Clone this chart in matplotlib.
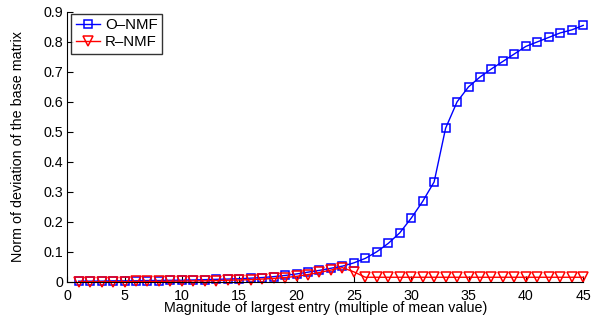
import numpy as np
import matplotlib
matplotlib.use("Agg")
import matplotlib.pyplot as plt

# magnitude of largest entry (multiple of mean value)
x = np.arange(1, 46)

o_nmf = [0.002, 0.002, 0.002, 0.003, 0.003, 0.003, 0.004, 0.004, 0.005, 0.005,
         0.006, 0.007, 0.008, 0.009, 0.010, 0.012, 0.014, 0.017, 0.021, 0.026,
         0.032, 0.038, 0.045, 0.052, 0.063, 0.078, 0.100, 0.128, 0.163, 0.212,
         0.268, 0.333, 0.512, 0.600, 0.650, 0.683, 0.710, 0.735, 0.760, 0.785,
         0.800, 0.815, 0.830, 0.840, 0.855]

r_nmf = [0.000, 0.000, 0.000, 0.000, 0.000, 0.001, 0.001, 0.001, 0.002, 0.002,
         0.003, 0.003, 0.004, 0.005, 0.006, 0.007, 0.009, 0.011, 0.014, 0.018,
         0.024, 0.031, 0.039, 0.047, 0.033, 0.015, 0.015, 0.015, 0.015, 0.015,
         0.015, 0.015, 0.015, 0.015, 0.015, 0.015, 0.015, 0.015, 0.015, 0.015,
         0.015, 0.015, 0.015, 0.015, 0.015]

xticks = np.arange(0, 46, 5)
yticks = np.arange(0, 0.91, 0.1)
ytick_labels = ["0", "0.1", "0.2", "0.3", "0.4", "0.5", "0.6", "0.7", "0.8", "0.9"]

plt.rcParams["font.family"] = ["Liberation Sans", "DejaVu Sans"]
plt.rcParams["font.size"] = 10.3

fig = plt.figure(figsize=(6.0, 3.22), dpi=100)
ax = fig.add_axes([0.112, 0.125, 0.86, 0.838])

ax.plot(x, o_nmf, color="#0000ff", lw=1.0, marker="s", ms=5.5,
        mfc="none", mec="#0000ff", mew=1.1, label="O\u2013NMF", clip_on=False)
ax.plot(x, r_nmf, color="#ff0000", lw=1.0, marker="v", ms=7.5,
        mfc="none", mec="#ff0000", mew=1.1, label="R\u2013NMF", clip_on=False)

ax.set_xlim(0, 45)
ax.set_ylim(0, 0.9)
ax.set_xticks(xticks)
ax.set_yticks(yticks)
ax.set_yticklabels(ytick_labels)
ax.tick_params(direction="in", length=4, width=0.8)
ax.tick_params(axis="x", pad=5)
ax.tick_params(axis="y", pad=3)

ax.spines["top"].set_visible(False)
ax.spines["right"].set_visible(False)

ax.set_xlabel("Magnitude of largest entry (multiple of mean value)", labelpad=-1)
ax.set_ylabel("Norm of deviation of the base matrix", labelpad=13)

leg = ax.legend(loc="upper left", bbox_to_anchor=(0.008, 0.993), borderaxespad=0,
                frameon=True, fancybox=False, edgecolor="black", fontsize=10.8,
                borderpad=0.3, handlelength=1.6, handletextpad=0.35,
                labelspacing=0.2)
leg.get_frame().set_linewidth(1.0)

fig.savefig("out.png", dpi=100)
